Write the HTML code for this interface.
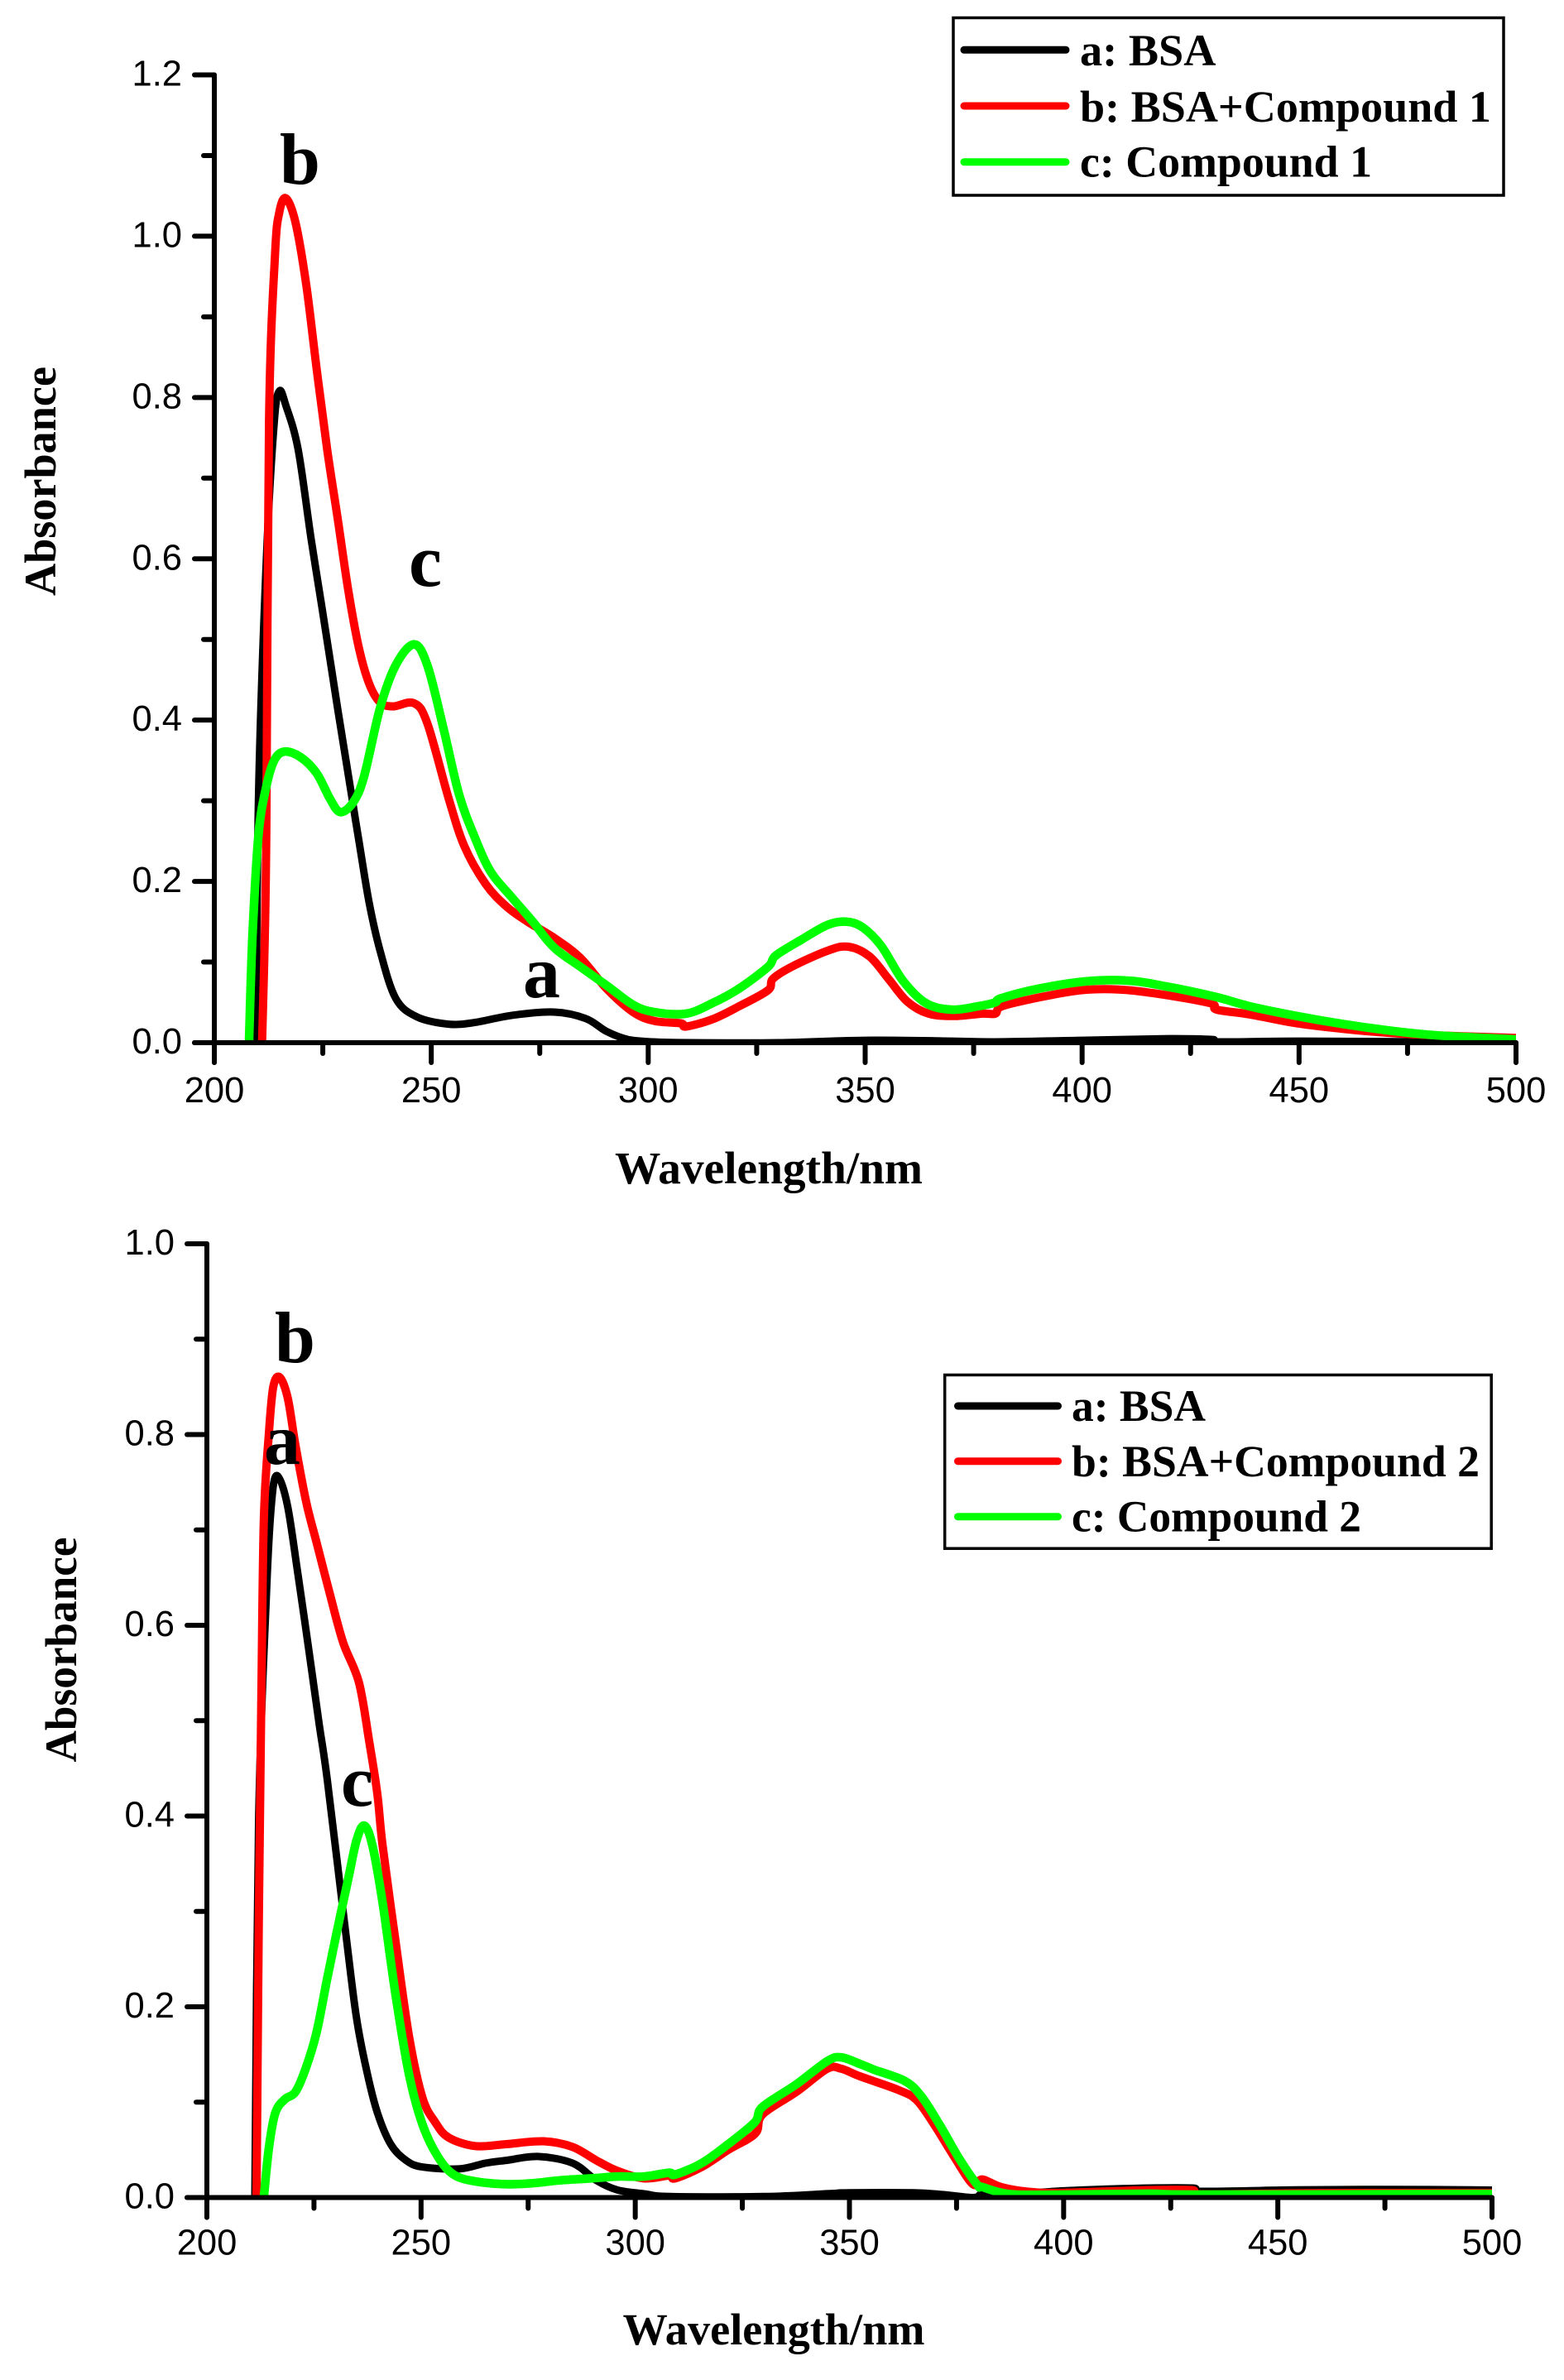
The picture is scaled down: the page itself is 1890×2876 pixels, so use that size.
<!DOCTYPE html>
<html lang="en">
<head>
<meta charset="utf-8">
<title>UV-Vis absorbance spectra</title>
<style>
html,body{margin:0;padding:0;background:#fff;}
svg{display:block;}
.serif{font-family:"Liberation Serif",serif;font-weight:bold;fill:#000;}
.sans{font-family:"Liberation Sans",sans-serif;fill:#000;}
</style>
</head>
<body>
<svg id="figure" xmlns="http://www.w3.org/2000/svg" width="1890" height="2876" viewBox="0 0 1890 2876">
  <rect width="1890" height="2876" fill="#fff"/>
  <g id="chart1">
    <g id="chart1-series"></g>
    <g id="chart1-axes"></g>
    <text class="serif" x="743" y="1430" font-size="55" textLength="372" lengthAdjust="spacingAndGlyphs">Wavelength/nm</text>
    <text class="serif" transform="translate(67 720) rotate(-90)" font-size="54" textLength="277" lengthAdjust="spacingAndGlyphs">Absorbance</text>
    <text class="serif" x="338" y="222" font-size="88">b</text>
    <text class="serif" x="494" y="708" font-size="90">c</text>
    <text class="serif" x="632" y="1205" font-size="90">a</text>
    <g>
      <rect x="1152" y="21.5" width="665" height="214.5" fill="#fff" stroke="#000" stroke-width="3.5"/>
      <line x1="1165" y1="60.3" x2="1288" y2="60.3" stroke="#000" stroke-width="9" stroke-linecap="round"/>
      <line x1="1165" y1="128" x2="1288" y2="128" stroke="#f00" stroke-width="9" stroke-linecap="round"/>
      <line x1="1165" y1="195.7" x2="1288" y2="195.7" stroke="#0f0" stroke-width="9" stroke-linecap="round"/>
      <text class="serif" x="1305" y="79" font-size="54" textLength="164.5" lengthAdjust="spacingAndGlyphs">a: BSA</text>
      <text class="serif" x="1305" y="147" font-size="54" textLength="497" lengthAdjust="spacingAndGlyphs">b: BSA+Compound 1</text>
      <text class="serif" x="1305" y="213.7" font-size="54" textLength="353" lengthAdjust="spacingAndGlyphs">c: Compound 1</text>
    </g>
  </g>
  <g id="chart2">
    <g id="chart2-series"></g>
    <g id="chart2-axes"></g>
    <text class="serif" x="752.5" y="2833" font-size="54" textLength="365" lengthAdjust="spacingAndGlyphs">Wavelength/nm</text>
    <text class="serif" transform="translate(92 2129.5) rotate(-90)" font-size="54" textLength="272" lengthAdjust="spacingAndGlyphs">Absorbance</text>
    <text class="serif" x="332" y="1646" font-size="88">b</text>
    <text class="serif" x="319" y="1769" font-size="88">a</text>
    <text class="serif" x="412" y="2182" font-size="88">c</text>
    <g>
      <rect x="1141.7" y="1661.5" width="660.5" height="209.7" fill="#fff" stroke="#000" stroke-width="3.5"/>
      <line x1="1157.5" y1="1699" x2="1278.5" y2="1699" stroke="#000" stroke-width="9" stroke-linecap="round"/>
      <line x1="1157.5" y1="1765.7" x2="1278.5" y2="1765.7" stroke="#f00" stroke-width="9" stroke-linecap="round"/>
      <line x1="1157.5" y1="1832.7" x2="1278.5" y2="1832.7" stroke="#0f0" stroke-width="9" stroke-linecap="round"/>
      <text class="serif" x="1295" y="1717" font-size="54" textLength="162" lengthAdjust="spacingAndGlyphs">a: BSA</text>
      <text class="serif" x="1295" y="1784" font-size="54" textLength="493" lengthAdjust="spacingAndGlyphs">b:  BSA+Compound 2</text>
      <text class="serif" x="1295" y="1850.7" font-size="54" textLength="350" lengthAdjust="spacingAndGlyphs">c: Compound 2</text>
    </g>
  </g>
</svg>
<script>
// ---- Tick labels ----
const xTickLabels = ["200", "250", "300", "350", "400", "450", "500"];
const xMinorTicks = [225, 275, 325, 375, 425, 475];
const chart1YTickLabels = ["0.0", "0.2", "0.4", "0.6", "0.8", "1.0", "1.2"];
const chart1YMinorTicks = [0.1, 0.3, 0.5, 0.7, 0.9, 1.1];
const chart2YTickLabels = ["0.0", "0.2", "0.4", "0.6", "0.8", "1.0"];
const chart2YMinorTicks = [0.1, 0.3, 0.5, 0.7, 0.9];

// ---- Chart 1: BSA ----
const c1aNm = [209.6, 210.2, 212, 213.8, 215, 216.5, 219.3, 222.3, 224.8, 228.4, 231.5, 233.3, 235.7, 238.2, 241.8, 246.7, 254, 260, 268.6, 278.3, 285.6, 290.4, 295.3, 301, 310, 330, 350, 370, 380, 400, 420, 430, 431, 450, 480, 500];
const c1aAbs = [0, 0.31, 0.6, 0.769, 0.808, 0.79, 0.736, 0.625, 0.54, 0.415, 0.311, 0.251, 0.173, 0.114, 0.055, 0.032, 0.023, 0.025, 0.034, 0.038, 0.03, 0.014, 0.004, 0.001, 0, 0, 0.003, 0.002, 0.001, 0.003, 0.005, 0.004, 0.001, 0.002, 0.001, 0];
// ---- Chart 1: BSA + Compound 1 ----
const c1bNm = [211, 211.5, 212, 212.6, 214, 215, 216.5, 218.7, 221.2, 223.6, 226, 228.4, 230.9, 233.3, 235.7, 238.2, 241.2, 246, 249.1, 254, 257.6, 262.5, 267.3, 272.2, 278.3, 284.4, 290.4, 296.5, 301.4, 307.5, 308.7, 314.8, 320.9, 327.6, 328.7, 333, 341.3, 346.1, 351, 355.4, 359.7, 364.6, 370.5, 377, 380, 381.5, 390, 399.7, 408.4, 417, 429.5, 431, 438.7, 449.5, 460.3, 471, 482, 500];
const c1bAbs = [0, 0.1, 0.27, 0.77, 0.978, 1.03, 1.047, 1.017, 0.939, 0.835, 0.736, 0.651, 0.56, 0.49, 0.445, 0.422, 0.417, 0.421, 0.396, 0.303, 0.244, 0.197, 0.169, 0.15, 0.13, 0.105, 0.067, 0.038, 0.027, 0.024, 0.02, 0.029, 0.045, 0.065, 0.079, 0.094, 0.114, 0.119, 0.107, 0.079, 0.051, 0.036, 0.033, 0.036, 0.036, 0.045, 0.056, 0.065, 0.066, 0.061, 0.049, 0.041, 0.035, 0.024, 0.017, 0.012, 0.009, 0.006];
// ---- Chart 1: Compound 1 ----
const c1cNm = [208, 208.8, 210.2, 212, 213.8, 216.2, 219.9, 223.6, 226.6, 229, 232, 234.5, 238.2, 241.8, 246, 249.1, 252.8, 256.4, 260, 263.7, 268.6, 273.4, 278.3, 284.4, 290.4, 296.5, 301.4, 308.7, 314.8, 320.9, 327.6, 329.4, 335.4, 341.3, 345.7, 349.4, 353.7, 358.7, 364, 369.9, 375.9, 380, 381.3, 390, 400.8, 410.5, 419.2, 430.6, 438.7, 449.5, 460.3, 471, 482, 500];
const c1cAbs = [0, 0.133, 0.259, 0.318, 0.35, 0.361, 0.354, 0.334, 0.303, 0.286, 0.298, 0.33, 0.415, 0.468, 0.494, 0.468, 0.39, 0.308, 0.255, 0.212, 0.18, 0.15, 0.118, 0.094, 0.071, 0.047, 0.038, 0.036, 0.049, 0.067, 0.094, 0.108, 0.128, 0.146, 0.15, 0.143, 0.12, 0.077, 0.049, 0.041, 0.045, 0.05, 0.055, 0.067, 0.076, 0.077, 0.07, 0.057, 0.045, 0.033, 0.023, 0.015, 0.009, 0.004];

// ---- Chart 2: BSA ----
const c2aNm = [211.2, 212.1, 213.9, 215.1, 216.4, 218.8, 221.3, 223.8, 226.2, 228.1, 232.4, 234.9, 237.3, 239.8, 242.9, 246.5, 250.3, 258.9, 265, 269.9, 277.3, 285.4, 290.9, 295.8, 302, 308.1, 330, 344.8, 350, 365, 372, 379, 381, 385, 400, 415, 430, 431.5, 454, 477, 500];
const c2aAbs = [0, 0.399, 0.633, 0.729, 0.757, 0.726, 0.652, 0.574, 0.497, 0.438, 0.278, 0.189, 0.133, 0.089, 0.056, 0.039, 0.032, 0.03, 0.036, 0.039, 0.043, 0.036, 0.018, 0.008, 0.004, 0.001, 0.001, 0.004, 0.005, 0.005, 0.003, 0, 0.004, 0.003, 0.007, 0.0095, 0.01, 0.0065, 0.008, 0.0085, 0.0078];
// ---- Chart 2: BSA + Compound 2 ----
const c2bNm = [211.6, 212.1, 212.7, 213.3, 214.5, 215.5, 217, 218.9, 220.7, 223.2, 225.6, 228.7, 231.8, 235.5, 237.9, 239.8, 241, 244, 247.2, 250.3, 253.3, 256.4, 262.6, 269.9, 278.6, 285.4, 290.9, 295.8, 302, 307.9, 309.3, 315.5, 321.7, 328, 329.7, 337.7, 344.8, 348.1, 352.5, 361.3, 365.7, 370, 374.4, 378.8, 381, 385.4, 392, 400, 420, 430, 432, 460, 500];
const c2bAbs = [0, 0.278, 0.517, 0.71, 0.803, 0.85, 0.86, 0.838, 0.788, 0.729, 0.687, 0.633, 0.582, 0.54, 0.478, 0.423, 0.37, 0.27, 0.169, 0.105, 0.079, 0.063, 0.054, 0.056, 0.059, 0.053, 0.039, 0.028, 0.02, 0.023, 0.02, 0.032, 0.05, 0.067, 0.087, 0.111, 0.135, 0.135, 0.127, 0.113, 0.102, 0.075, 0.043, 0.014, 0.019, 0.011, 0.006, 0.005, 0.0078, 0.0078, 0.0035, 0.0047, 0.0047];
// ---- Chart 2: Compound 2 ----
const c2cNm = [213.3, 214.5, 216, 218.2, 220.7, 223.2, 225.6, 228.1, 230.5, 233, 234.9, 236.7, 238.6, 241, 244, 247.2, 250.3, 253.9, 257.6, 262.6, 269.9, 276.1, 282.3, 289.6, 295.8, 302, 307.9, 309.3, 315.5, 321.7, 327.9, 329.7, 337.7, 344.8, 348.1, 352.5, 355.8, 363, 366.8, 371.1, 375.6, 379.9, 381, 387.6, 400, 420, 432, 500];
const c2cAbs = [0, 0.053, 0.089, 0.103, 0.111, 0.137, 0.173, 0.23, 0.282, 0.334, 0.374, 0.39, 0.37, 0.31, 0.214, 0.129, 0.077, 0.043, 0.024, 0.017, 0.014, 0.015, 0.018, 0.02, 0.022, 0.022, 0.026, 0.024, 0.036, 0.056, 0.079, 0.095, 0.119, 0.143, 0.147, 0.14, 0.134, 0.122, 0.106, 0.076, 0.041, 0.013, 0.011, 0.0035, 0.003, 0.004, 0.003, 0.0037];

const SVGNS = "http://www.w3.org/2000/svg";

function makeScale(d0, d1, r0, r1) {
  return function (v) { return r0 + (v - d0) * (r1 - r0) / (d1 - d0); };
}

function smoothPath(xs, ys, sx, sy) {
  const pts = xs.map(function (x, i) { return [sx(x), sy(ys[i])]; });
  let d = "M" + pts[0][0].toFixed(1) + " " + pts[0][1].toFixed(1);
  for (let i = 0; i < pts.length - 1; i++) {
    const p0 = pts[Math.max(i - 1, 0)], p1 = pts[i], p2 = pts[i + 1], p3 = pts[Math.min(i + 2, pts.length - 1)];
    const c1x = p1[0] + (p2[0] - p0[0]) / 6, c1y = p1[1] + (p2[1] - p0[1]) / 6;
    const c2x = p2[0] - (p3[0] - p1[0]) / 6, c2y = p2[1] - (p3[1] - p1[1]) / 6;
    d += "C" + c1x.toFixed(1) + " " + c1y.toFixed(1) + " " + c2x.toFixed(1) + " " + c2y.toFixed(1) + " " + p2[0].toFixed(1) + " " + p2[1].toFixed(1);
  }
  return d;
}

function addLine(parent, name, x1, y1, x2, y2) {
  const el = document.createElementNS(SVGNS, "line");
  
  
  el.setAttribute("x1", x1);
  el.setAttribute("y1", y1);
  el.setAttribute("x2", x2);
  el.setAttribute("y2", y2);
  el.setAttribute("stroke", "#000");
  el.setAttribute("stroke-width", "6");
  el.setAttribute("stroke-linecap", "round");
  parent.appendChild(el);
}

function addLabel(parent, name, txt, x, y, anchor) {
  const el = document.createElementNS(SVGNS, "text");
  
  
  el.setAttribute("class", "sans");
  el.setAttribute("x", x);
  el.setAttribute("y", y);
  el.setAttribute("font-size", "43.5");
  el.setAttribute("text-anchor", anchor);
  el.textContent = txt;
  parent.appendChild(el);
}

function addSeries(parent, name, color, width, d, clipId) {
  const el = document.createElementNS(SVGNS, "path");
  
  
  el.setAttribute("d", d);
  el.setAttribute("fill", "none");
  el.setAttribute("stroke", color);
  el.setAttribute("stroke-width", width);
  el.setAttribute("stroke-linejoin", "round");
  el.setAttribute("clip-path", "url(#" + clipId + ")");
  parent.appendChild(el);
}

function drawChart(cfg) {
  const sx = makeScale(200, 500, cfg.x200, cfg.x500);
  const sy = makeScale(0, cfg.yMax, cfg.y0, cfg.yTop);
  const axes = document.getElementById(cfg.id + "-axes");
  const series = document.getElementById(cfg.id + "-series");

  const defs = document.createElementNS(SVGNS, "defs");
  const clip = document.createElementNS(SVGNS, "clipPath");
  clip.setAttribute("id", cfg.id + "-clip");
  const rect = document.createElementNS(SVGNS, "rect");
  rect.setAttribute("x", sx(200));
  rect.setAttribute("y", sy(cfg.yMax));
  rect.setAttribute("width", sx(500) - sx(200));
  rect.setAttribute("height", sy(0) - sy(cfg.yMax) + 1);
  clip.appendChild(rect);
  defs.appendChild(clip);
  series.appendChild(defs);

  cfg.series.forEach(function (s) {
    addSeries(series, cfg.id + "-" + s.name, s.color, s.width, smoothPath(s.nm, s.abs, sx, sy), cfg.id + "-clip");
  });

  addLine(axes, cfg.id + "-y-axis-line", sx(200), sy(cfg.yMax), sx(200), sy(0) + cfg.majorLen);
  addLine(axes, cfg.id + "-x-axis-line", sx(200) - cfg.majorLen, sy(0), sx(500), sy(0));

  xTickLabels.forEach(function (t) {
    const v = Number(t);
    addLine(axes, cfg.id + "-x-tick-" + t, sx(v), sy(0), sx(v), sy(0) + cfg.majorLen);
    addLabel(axes, cfg.id + "-x-tick-label-" + t, t, sx(v), sy(0) + cfg.xLabelDy, "middle");
  });
  xMinorTicks.forEach(function (v) {
    addLine(axes, cfg.id + "-x-minor-tick-" + v, sx(v), sy(0), sx(v), sy(0) + cfg.minorLen);
  });
  cfg.yLabels.forEach(function (t) {
    const v = Number(t);
    addLine(axes, cfg.id + "-y-tick-" + t, sx(200) - cfg.majorLen, sy(v), sx(200), sy(v));
    addLabel(axes, cfg.id + "-y-tick-label-" + t, t, sx(200) - 39, sy(v) + 13, "end");
  });
  cfg.yMinor.forEach(function (v) {
    addLine(axes, cfg.id + "-y-minor-tick-" + v, sx(200) - cfg.minorLen, sy(v), sx(200), sy(v));
  });
}

drawChart({
  id: "chart1", x200: 259, x500: 1832, y0: 1260, yTop: 90.5, yMax: 1.2,
  majorLen: 24, minorLen: 13, xLabelDy: 72,
  yLabels: chart1YTickLabels, yMinor: chart1YMinorTicks,
  series: [
    { name: "series-a-bsa", color: "#000", width: 9, nm: c1aNm, abs: c1aAbs },
    { name: "series-b-bsa-compound-1", color: "#f00", width: 10, nm: c1bNm, abs: c1bAbs },
    { name: "series-c-compound-1", color: "#0f0", width: 10.5, nm: c1cNm, abs: c1cAbs }
  ]
});

drawChart({
  id: "chart2", x200: 250, x500: 1803, y0: 2655.5, yTop: 1503, yMax: 1.0,
  majorLen: 24, minorLen: 13, xLabelDy: 69,
  yLabels: chart2YTickLabels, yMinor: chart2YMinorTicks,
  series: [
    { name: "series-a-bsa", color: "#000", width: 9, nm: c2aNm, abs: c2aAbs },
    { name: "series-b-bsa-compound-2", color: "#f00", width: 10, nm: c2bNm, abs: c2bAbs },
    { name: "series-c-compound-2", color: "#0f0", width: 10.5, nm: c2cNm, abs: c2cAbs }
  ]
});
</script>
</body>
</html>
